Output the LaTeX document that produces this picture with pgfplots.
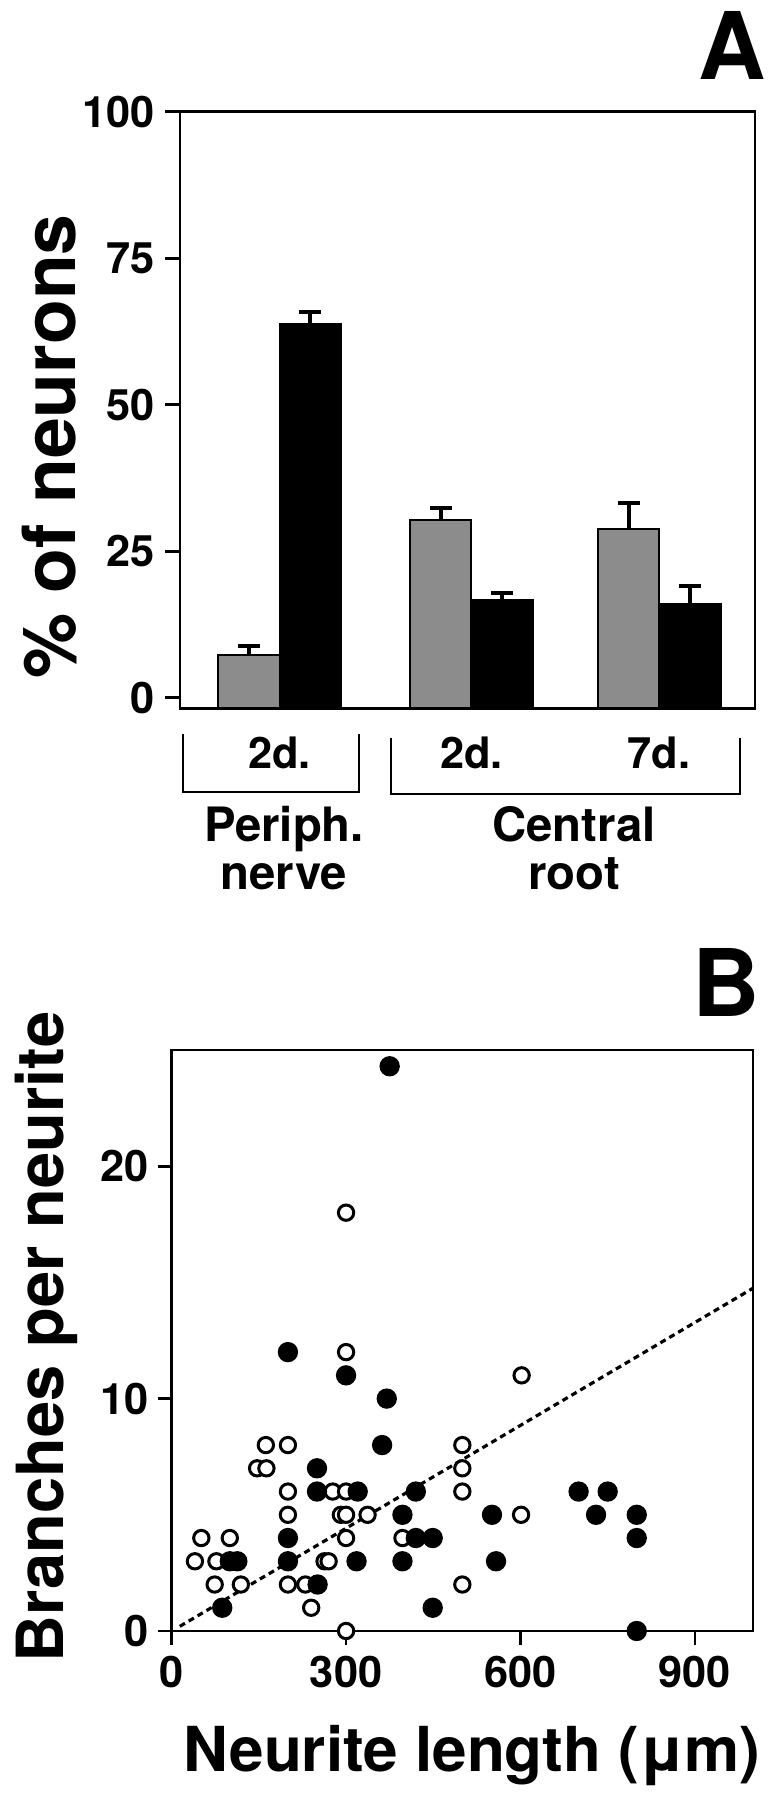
\documentclass[border=0pt]{standalone}
\usepackage{fontspec}
\setmainfont{TeX Gyre Heros}
\usepackage{pgfplots}
\usepackage{pgfplotstable}
\pgfplotsset{compat=1.18}

% panel B: neurite length (um) vs branches per neurite
\pgfplotstableread{
x y
300 18
300 12
162 8
200 8
147 7
163 7
200 6
277 6
300 6
500 8
500 7
500 6
200 5
291 5
300 5
337 5
602 11
601 5
51 4
100 4
300 4
397 4
40 3
77 3
263 3
270 3
74 2
119 2
200 2
230 2
500 2
240 1
300 0
}\opendata

\pgfplotstableread{
x y
375 24.3
200 12
300 11
370 10
362 8
250 7
250 6
320 6
420 6
397 5
551 5
700 6
750 6
730 5
800 5
800 4
800 0
200 4
200 3
318 3
397 3
558 3
420 4
449 4
449 1
87 1
100 3
113 3
251 2
}\filleddata

\newcommand{\tickfont}{\fontsize{13}{13}\selectfont\bfseries}

\begin{document}
\begin{tikzpicture}[font=\bfseries]
\path[use as bounding box] (0,0) rectangle (235.2pt,540pt);

% ---- panel A ----
\begin{axis}[
    at={(54pt,327.5pt)}, anchor=south west,
    scale only axis, width=172.5pt, height=179pt,
    xmin=0, xmax=3, ymin=-1.8, ymax=100,
    y coord trafo/.code={\pgfmathparse{#1+1.8}},
    y coord inv trafo/.code={\pgfmathparse{#1-1.8}},
    ybar, bar width=0.32,
    axis line style={line width=0.85pt},
    tick align=outside, major tick length=4.5pt,
    tick style={line width=0.8pt, black},
    ytick={0,25,50,75,100}, yticklabels={0,25,50,75,100},
    ytick pos=left,
    xtick={0.52,1.52,2.5}, xticklabels={2d.,2d.,7d.},
    x tick style={draw=none},
    ticklabel style={font=\tickfont, inner sep=0pt},
    yticklabel style={xshift=-3pt},
    xticklabel style={yshift=-4pt},
    errbar/.style={error bars/.cd, y dir=plus, y explicit,
        error mark=-,
        error bar style={line width=1.2pt, black, solid},
        error mark options={rotate=90, line width=1.2pt, mark size=3.3pt, black}},
]
\addplot[fill=black!45, draw=black, line width=0.6pt, bar shift=-0.16, errbar]
    coordinates {(0.52,7.3) +- (0,1.5) (1.52,30.4) +- (0,2.0) (2.5,28.8) +- (0,4.5)};
\addplot[fill=black, draw=black, line width=0.6pt, bar shift=0.16, errbar]
    coordinates {(0.52,63.8) +- (0,2.0) (1.52,16.6) +- (0,1.2) (2.5,16.0) +- (0,3.0)};
\end{axis}

% brackets and group names under panel A
\draw[line width=0.65pt] (55pt,319.8pt) -- (55pt,302.3pt) -- (107.8pt,302.3pt) -- (107.8pt,319.8pt);
\draw[line width=0.65pt] (117.2pt,318.7pt) -- (117.2pt,301.8pt) -- (222pt,301.8pt) -- (222pt,318.7pt);
\begin{scope}[every node/.style={inner sep=0pt, anchor=base, font=\fontsize{14.2}{15}\selectfont\bfseries}]
\node at (85.2pt,287.5pt) {Periph.};
\node at (85.2pt,273pt) {nerve};
\node at (172.2pt,287.5pt) {Central};
\node at (172.2pt,273pt) {root};
\end{scope}
\node[inner sep=0pt, anchor=base, font=\fontsize{28}{28}\selectfont\bfseries] at (219.6pt,516pt) {A};
\node[inner sep=0pt, anchor=base, rotate=90, font=\fontsize{22}{22}\selectfont\bfseries] at (22.5pt,406pt) {\% of neurons};

% ---- panel B ----
\begin{axis}[
    at={(51.5pt,50.7pt)}, anchor=south west,
    scale only axis, width=174.4pt, height=174.3pt,
    xmin=0, xmax=1000, ymin=0, ymax=25,
    clip=false,
    axis line style={line width=0.85pt},
    tick align=outside, major tick length=4.2pt,
    tick style={line width=0.8pt, black},
    xtick={0,300,600,900}, xticklabels={0,300,600,900},
    ytick={0,10,20}, yticklabels={0,10,20},
    xtick pos=bottom, ytick pos=left,
    ticklabel style={font=\tickfont, inner sep=0pt},
    yticklabel style={xshift=-2.4pt},
    xticklabel style={yshift=-3pt},
]
\addplot[black, line width=0.95pt, dash pattern=on 1.8pt off 1.3pt]
    coordinates {(14,0.2) (1000,14.75)};
\addplot[only marks, mark=*, mark size=2.3pt,
    mark options={fill=white, draw=black, line width=0.9pt}]
    table[x=x, y=y] {\opendata};
\addplot[only marks, mark=*, mark size=2.85pt,
    mark options={fill=black, draw=black}]
    table[x=x, y=y] {\filleddata};
\end{axis}

\node[inner sep=0pt, anchor=base, font=\fontsize{28}{28}\selectfont\bfseries] at (218pt,234.9pt) {B};
\node[inner sep=0pt, anchor=base, rotate=90, font=\fontsize{19.5}{20}\selectfont\bfseries] at (18.9pt,138.9pt) {Branches per neurite};
\node[inner sep=0pt, anchor=base, font=\fontsize{18.6}{20}\selectfont\bfseries] at (141.6pt,8.4pt) {Neurite length (μm)};
\end{tikzpicture}
\end{document}
